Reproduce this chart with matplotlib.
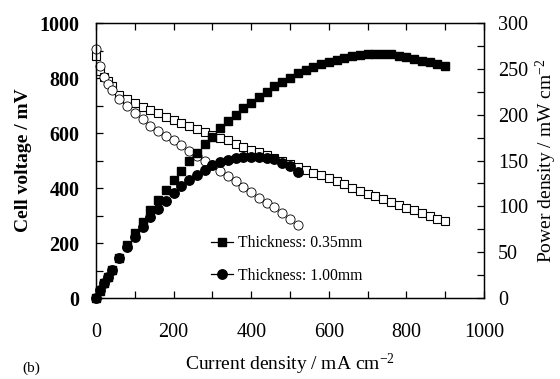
import matplotlib
matplotlib.use('Agg')
import matplotlib.pyplot as plt
from matplotlib.lines import Line2D
from matplotlib.ticker import MultipleLocator

# Current density (mA cm-2) for each cell
current_035 = [0, 10, 20, 30, 40] + list(range(60, 901, 20))
current_100 = [0, 10, 20, 30, 40] + list(range(60, 521, 20))

# Cell voltage (mV)
voltage_035 = [880, 825, 804, 788, 772, 740, 722, 708, 696, 684,
               671, 659, 648, 636, 626, 614, 602, 591, 582, 573,
               560, 550, 540, 530, 520, 508, 497, 488, 477, 466,
               456, 446, 436, 426, 414, 401, 390, 380, 371, 360,
               349, 338, 329, 319, 308, 298, 289, 280]
voltage_100 = [905, 843, 805, 780, 757, 725, 697, 671, 650, 627,
               608, 590, 573, 555, 536, 518, 500, 483, 462, 445,
               425, 404, 384, 365, 347, 330, 308, 287, 265]

# Power density (mW cm-2)
power_035 = [0, 8, 16, 23, 31, 44, 58, 71, 83, 96,
             107, 118, 129, 139, 149, 158, 168, 176, 185, 193,
             200, 207, 213, 219, 225, 231, 236, 240, 245, 249,
             252, 255, 258, 260, 262, 264, 265, 266, 266.5, 266.5,
             266, 264.5, 263, 261, 259, 257, 255, 253]
power_100 = [0, 8.4, 16, 23.4, 30.3, 43.5, 55.8, 67, 78, 88,
             97, 106, 114.6, 122, 128.6, 134.7, 140, 145, 148, 151,
             153, 153.5, 153.6, 153.3, 152.7, 151.8, 147.8, 143.5, 137.8]

legend_labels = ['Thickness: 0.35mm', 'Thickness: 1.00mm']


def main():
    """Set up fonts, draw the polarisation and power curves and save the figure."""
    plt.rcParams['font.family'] = ['Liberation Serif', 'DejaVu Serif']
    plt.rcParams['mathtext.fontset'] = 'custom'
    plt.rcParams['mathtext.rm'] = 'Liberation Serif'
    plt.rcParams['mathtext.it'] = 'Liberation Serif:italic'
    plot_data()


def style_axis(ax):
    """Inward ticks on every side, thin black frame."""
    ax.tick_params(which='both', direction='in', length=5, width=0.9,
                   labelsize=14.5)
    for spine in ax.spines.values():
        spine.set_linewidth(0.9)


def plot_data():
    """Cell voltage on the left axis, power density on the right axis."""
    fig = plt.figure(figsize=(5.6, 3.79), dpi=100)
    ax = fig.add_axes([0.1714, 0.2137, 0.6929, 0.7256])
    ax2 = ax.twinx()

    # Voltage curves: open markers
    ax.plot(current_035, voltage_035, linestyle='none', marker='s', ms=6.2,
            mfc='white', mec='black', mew=0.8, clip_on=False)
    ax.plot(current_100, voltage_100, linestyle='none', marker='o', ms=6.6,
            mfc='white', mec='black', mew=0.6, clip_on=False)

    # Power curves: filled markers
    ax2.plot(current_035, power_035, linestyle='none', marker='s', ms=6.2,
             mfc='black', mec='black', clip_on=False)
    ax2.plot(current_100, power_100, linestyle='none', marker='o', ms=6.8,
             mfc='black', mec='black', clip_on=False)

    ax.set_xlim(0, 1000)
    ax.set_ylim(0, 1000)
    ax2.set_ylim(0, 300)

    ax.xaxis.set_major_locator(MultipleLocator(200))
    ax.xaxis.set_minor_locator(MultipleLocator(100))
    ax.yaxis.set_major_locator(MultipleLocator(200))
    ax.yaxis.set_minor_locator(MultipleLocator(100))
    ax2.yaxis.set_major_locator(MultipleLocator(50))
    ax2.yaxis.set_minor_locator(MultipleLocator(25))

    style_axis(ax)
    style_axis(ax2)
    ax.tick_params(axis='x', which='both', top=True, pad=18)
    ax.tick_params(axis='y', which='both', right=False, pad=12)
    ax2.tick_params(axis='y', which='both', pad=10)
    for label in ax.get_yticklabels():
        label.set_fontweight('bold')

    # Labels
    ax.set_xlabel('Current density / mA cm$^{-2}$', fontsize=14, labelpad=7)
    ax.set_ylabel('Cell voltage / mV', fontsize=14, fontweight='bold', labelpad=5)
    ax2.set_ylabel('Power density / mW cm$^{-2}$', fontsize=14, labelpad=4)
    fig.text(0.04, 0.02, '(b)', fontsize=11)

    # Legend for the filled series
    handles = [
        Line2D([], [], color='black', lw=0.9, marker='s', ms=6.2),
        Line2D([], [], color='black', lw=0.9, marker='o', ms=6.8),
    ]
    ax2.legend(handles, legend_labels, loc='upper left',
               bbox_to_anchor=(0.297, 0.228), frameon=False, fontsize=11.3,
               handlelength=1.4, handletextpad=0.3, labelspacing=1.05,
               borderpad=0, borderaxespad=0)

    fig.savefig('out.png', dpi=100)


if __name__ == "__main__":
    main()
